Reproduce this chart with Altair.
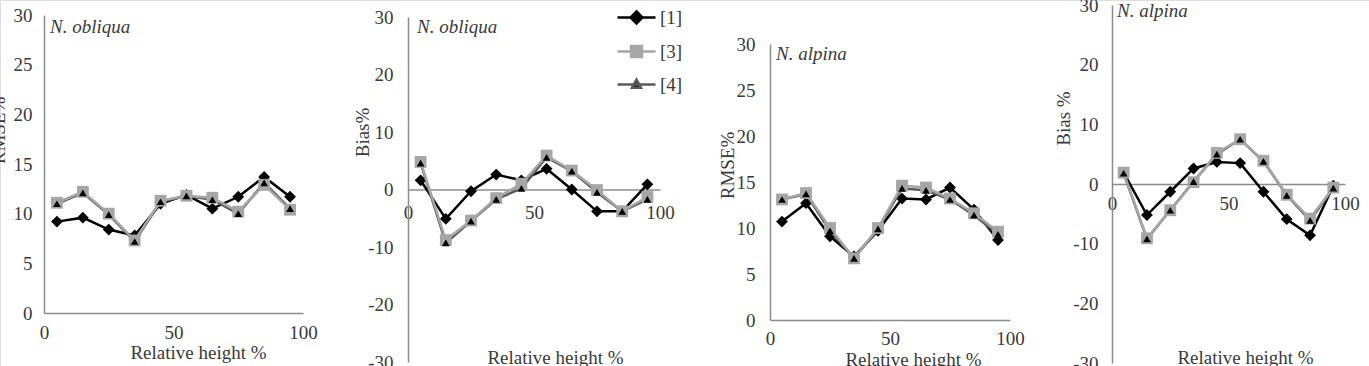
import altair as alt
import pandas as pd

# ---------------- data ----------------
heights = [5, 15, 25, 35, 45, 55, 65, 75, 85, 95]
series_names = ["[1]", "[3]", "[4]"]

obliqua_rmse_1 = [9.2, 9.6, 8.4, 7.8, 11.0, 11.9, 10.5, 11.7, 13.7, 11.7]
obliqua_rmse_3 = [11.1, 12.2, 10.0, 7.3, 11.3, 11.8, 11.6, 10.2, 12.9, 10.4]
obliqua_rmse_4 = [11.0, 12.1, 9.9, 7.2, 11.2, 11.8, 11.4, 10.0, 13.1, 10.5]

obliqua_bias_1 = [1.6, -5.1, -0.3, 2.6, 1.6, 3.6, 0.0, -3.8, -3.8, 0.9]
obliqua_bias_3 = [4.8, -8.8, -5.4, -1.5, 1.0, 5.9, 3.3, -0.1, -3.8, -1.3]
obliqua_bias_4 = [4.6, -9.3, -5.5, -1.7, 0.2, 5.6, 3.2, -0.5, -3.8, -1.7]

alpina_rmse_1 = [10.7, 12.7, 9.1, 6.9, 9.7, 13.2, 13.1, 14.4, 12.0, 8.7]
alpina_rmse_3 = [13.1, 13.8, 10.0, 6.7, 10.0, 14.6, 14.4, 13.2, 11.6, 9.6]
alpina_rmse_4 = [13.1, 13.7, 9.7, 6.7, 9.9, 14.3, 14.1, 13.1, 11.4, 9.3]

alpina_bias_1 = [1.9, -5.2, -1.3, 2.6, 3.7, 3.5, -1.3, -5.9, -8.6, -0.3]
alpina_bias_3 = [1.9, -9.1, -4.4, 0.3, 5.2, 7.5, 3.9, -1.8, -5.8, -0.6]
alpina_bias_4 = [1.8, -9.2, -4.4, 0.4, 5.0, 7.5, 3.8, -1.9, -6.1, -0.7]

x_ticks = [0, 50, 100]
rmse_ticks = [0, 5, 10, 15, 20, 25, 30]
bias_ticks = [-30, -20, -10, 0, 10, 20, 30]

# ---------------- styling ----------------
FONT = "Liberation Serif, Times New Roman, DejaVu Serif, serif"
TXT = "#3a3a3a"
AXC = "#8c8c8c"
FS = 19


def long_df(s1, s3, s4):
    rows = []
    for name, vals in zip(series_names, [s1, s3, s4]):
        for h, v in zip(heights, vals):
            rows.append({"x": h, "value": v, "series": name})
    return pd.DataFrame(rows)


def panel(df, label, label_pos, ydom, yticks, xrange, yrange, axis_x_y,
          ytitle, ytitle_pos, ylab_pad, xlab_pad, xtitle_pos):
    x_axis_px = axis_x_y
    xaxis = alt.Axis(
        values=x_ticks, orient="bottom", offset=x_axis_px - 366, ticks=False,
        grid=False, domainColor=AXC, domainWidth=1.5, labelFlush=False,
        labelFont=FONT, labelFontSize=FS, labelColor=TXT,
        labelBaseline="middle", labelPadding=xlab_pad,
        title="Relative height %", titleFont=FONT, titleFontSize=FS,
        titleFontWeight="normal", titleColor=TXT, titleBaseline="middle",
        titleAlign="center", titleX=xtitle_pos[0],
        titleY=xtitle_pos[1] - x_axis_px,
    )
    yaxis = alt.Axis(
        values=yticks, orient="left", offset=-xrange[0], ticks=False,
        grid=False, domainColor=AXC, domainWidth=1.5,
        labelExpr="'' + datum.value", labelFont=FONT, labelFontSize=FS,
        labelColor=TXT, labelPadding=ylab_pad,
        title=ytitle, titleFont=FONT, titleFontSize=FS,
        titleFontWeight="normal", titleColor=TXT, titleAngle=270,
        titleAlign="center", titleBaseline="middle",
        titleX=ytitle_pos[0] - xrange[0], titleY=ytitle_pos[1],
    )
    base = alt.Chart(df).encode(
        x=alt.X("x:Q", scale=alt.Scale(domain=[0, 100], range=xrange, nice=False,
                                       zero=False), axis=xaxis),
        y=alt.Y("value:Q", scale=alt.Scale(domain=ydom, range=yrange, nice=False,
                                           zero=False), axis=yaxis),
    )
    s1 = base.transform_filter(alt.datum.series == "[1]")
    s3 = base.transform_filter(alt.datum.series == "[3]")
    s4 = base.transform_filter(alt.datum.series == "[4]")
    layers = [
        s1.mark_line(color="#000000", strokeWidth=2.5),
        s1.mark_point(shape="diamond", filled=True, color="#000000", size=140,
                      opacity=1),
        s4.mark_line(color="#595959", strokeWidth=2.5),
        s3.mark_line(color="#a6a6a6", strokeWidth=2.5),
        s3.mark_point(shape="square", filled=True, color="#a6a6a6", size=140,
                      opacity=1),
        s4.mark_point(shape="triangle-up", filled=True, color="#000000",
                      size=60, opacity=1),
        alt.Chart(pd.DataFrame({"t": [label]})).mark_text(
            font=FONT, fontSize=FS, fontStyle="italic", color=TXT,
            align="left", baseline="middle",
        ).encode(text="t:N", x=alt.value(label_pos[0]), y=alt.value(label_pos[1])),
    ]
    return alt.layer(*layers)


p1 = panel(long_df(obliqua_rmse_1, obliqua_rmse_3, obliqua_rmse_4), "N. obliqua",
           (50, 27), [0, 30], rmse_ticks, [44, 303], [313, 15], 313,
           "RMSE%", (-2, 130), 12, 19, (198, 352))
p2 = panel(long_df(obliqua_bias_1, obliqua_bias_3, obliqua_bias_4), "N. obliqua",
           (417, 27), [-30, 30], bias_ticks, [408, 660], [362, 17], 189.5,
           "Bias%", (362, 132), 15, 23, (555, 357))
p3 = panel(long_df(alpina_rmse_1, alpina_rmse_3, alpina_rmse_4), "N. alpina",
           (776, 54), [0, 30], rmse_ticks, [770, 1010], [320, 44], 320,
           "RMSE%", (727, 165), 15, 18, (913, 359))
p4 = panel(long_df(alpina_bias_1, alpina_bias_3, alpina_bias_4), "N. alpina",
           (1117, 11), [-30, 30], bias_ticks, [1112, 1345], [363, 5], 184,
           "Bias %", (1063, 118), 14, 19, (1245, 357))

# ---------------- legend ----------------
leg_paths = [
    "M-1.9,0L1.9,0M0,-0.6L0.6,0L0,0.6L-0.6,0Z",
    "M-1.9,0L1.9,0M-0.55,-0.55L0.55,-0.55L0.55,0.55L-0.55,0.55Z",
    "M-1.9,0L1.9,0M0,-0.5L0.45,0.33L-0.45,0.33Z",
]
leg_fill = ["#000000", "#a6a6a6", "#000000"]
leg_stroke = ["#000000", "#a6a6a6", "#595959"]
leg_props = dict(orient="none", legendX=625, legendY=6, title=None,
                 labelFont=FONT, labelFontSize=FS, labelColor=TXT,
                 symbolSize=400, symbolStrokeWidth=2.5, symbolOpacity=1,
                 rowPadding=11, labelOffset=12)
legend_layer = alt.Chart(pd.DataFrame({"series": series_names})).mark_point(
    filled=True, opacity=0
).encode(
    shape=alt.Shape("series:N", scale=alt.Scale(domain=series_names, range=leg_paths),
                    legend=alt.Legend(**leg_props)),
    fill=alt.Fill("series:N", scale=alt.Scale(domain=series_names, range=leg_fill),
                  legend=alt.Legend(**leg_props)),
    stroke=alt.Stroke("series:N", scale=alt.Scale(domain=series_names, range=leg_stroke),
                      legend=alt.Legend(**leg_props)),
)

chart = alt.layer(p1, p2, p3, p4, legend_layer).resolve_scale(
    x="independent", y="independent"
).resolve_axis(
    x="independent", y="independent"
).properties(
    width=1369, height=366, padding=0,
    autosize=alt.AutoSizeParams(type="none"),
).configure_view(stroke=None).configure(background="white")

chart.save("out.html", embed_options={"renderer": "svg", "actions": False})
